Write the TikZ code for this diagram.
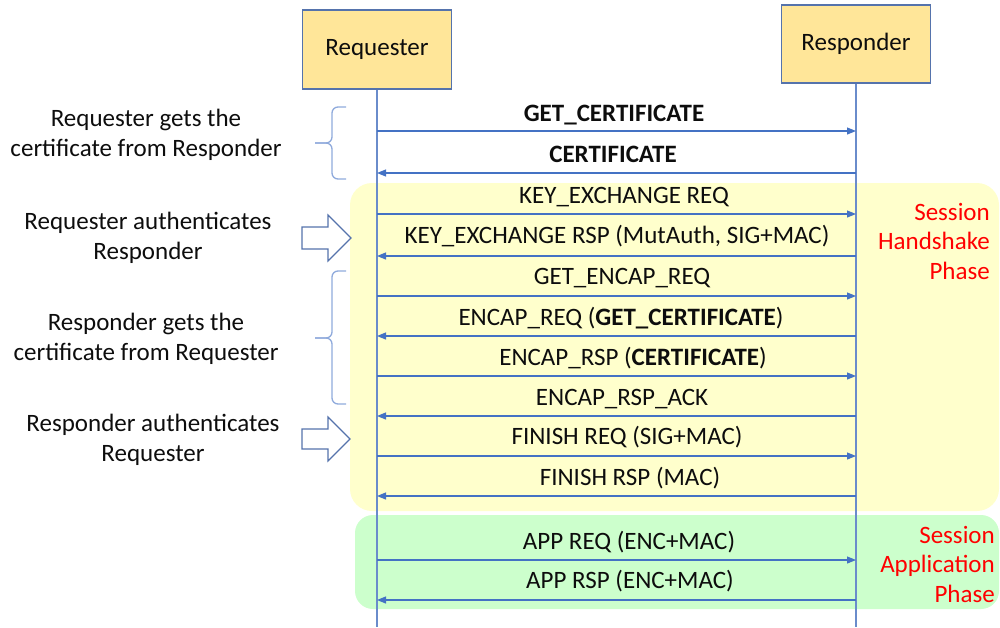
\documentclass[tikz,border=0pt]{standalone}
\usepackage{fontspec}
\setmainfont{Carlito}
\usetikzlibrary{arrows.meta}
\definecolor{boxfill}{HTML}{FFE699}
\definecolor{boxdraw}{HTML}{5573AC}
\definecolor{lifec}{HTML}{6A8CCB}
\definecolor{msgc}{HTML}{4472C4}
\definecolor{yellowbg}{HTML}{FFFFCC}
\definecolor{greenbg}{HTML}{CCFFCC}
\definecolor{bracec}{HTML}{8FAADC}
\definecolor{phasec}{HTML}{FF0000}
\definecolor{txt}{HTML}{0D0D0D}
\begin{document}
\begin{tikzpicture}[x=1pt,y=-1pt,
  font=\fontsize{25}{29.5}\selectfont, text=txt,
  actor/.style={draw=boxdraw, line width=1.1pt, fill=boxfill, minimum width=149pt, inner sep=0pt},
  life/.style={draw=lifec, line width=1.1pt},
  msg/.style={draw=msgc, line width=1.1pt, -{Triangle[length=9pt,width=7pt]}},
  lbl/.style={anchor=base, inner sep=0pt},
  note/.style={anchor=base, align=center, inner sep=0pt},
  phase/.style={anchor=base east, align=right, inner sep=0pt, text=phasec},
  bracepath/.style={draw=bracec, line width=1.3pt, rounded corners=6pt},
  blockarrow/.style={draw=boxdraw, fill=white, line width=1.1pt, line join=miter}
]
\useasboundingbox (0,0) rectangle (1000,627);

% phase backgrounds
\fill[yellowbg, rounded corners=22pt] (350,183) rectangle (999,511);
\fill[greenbg, rounded corners=18pt] (355,515) rectangle (999,609);

% actors
\node[actor, minimum height=79pt] (req) at (377,49.5) {Requester};
\node[actor, minimum height=78pt] (rsp) at (856,44) {Responder};
\coordinate (reqend) at (377,627);
\coordinate (rspend) at (856,627);
\draw[life] (req.south) -- (reqend);
\draw[life] (rsp.south) -- (rspend);

% message end points
\foreach \i/\y in {1/131,2/173,3/214,4/256,5/296,6/336,7/376,8/416,9/456,10/496,11/560,12/600}{
  \coordinate (a\i) at (377,\y);
  \coordinate (b\i) at (856,\y);
}

% messages
\draw[msg] (a1) -- (b1);
\draw[msg] (b2) -- (a2);
\draw[msg] (a3) -- (b3);
\draw[msg] (b4) -- (a4);
\draw[msg] (a5) -- (b5);
\draw[msg] (b6) -- (a6);
\draw[msg] (a7) -- (b7);
\draw[msg] (b8) -- (a8);
\draw[msg] (a9) -- (b9);
\draw[msg] (b10) -- (a10);
\draw[msg] (a11) -- (b11);
\draw[msg] (b12) -- (a12);

% message labels
\node[lbl] (m1) at (614,121) {\textbf{GET\_CERTIFICATE}};
\node[lbl] (m2) at (613,162) {\textbf{CERTIFICATE}};
\node[lbl] (m3) at (624,203) {KEY\_EXCHANGE REQ};
\node[lbl] (m4) at (617,243) {KEY\_EXCHANGE RSP (MutAuth, SIG+MAC)};
\node[lbl] (m5) at (622,284) {GET\_ENCAP\_REQ};
\node[lbl] (m6) at (621,325) {ENCAP\_REQ (\textbf{GET\_CERTIFICATE})};
\node[lbl] (m7) at (633,365) {ENCAP\_RSP (\textbf{CERTIFICATE})};
\node[lbl] (m8) at (622,405) {ENCAP\_RSP\_ACK};
\node[lbl] (m9) at (627,444) {FINISH REQ (SIG+MAC)};
\node[lbl] (m10) at (630,485) {FINISH RSP (MAC)};
\node[lbl] (m11) at (629,549) {APP REQ (ENC+MAC)};
\node[lbl] (m12) at (630,588) {APP RSP (ENC+MAC)};

% phase labels (anchor = baseline of last line)
\node[phase] (ph1) at (990,279) {Session\\Handshake\\Phase};
\node[phase] (ph2) at (995,602) {Session\\Application\\Phase};

% left notes (anchor = baseline of last line)
\node[note] (n1) at (146,156) {Requester gets the\\certificate from Responder};
\node[note] (n2) at (148,259) {Requester authenticates\\Responder};
\node[note] (n3) at (146,360) {Responder gets the\\certificate from Requester};
\node[note] (n4) at (153,461) {Responder authenticates\\Requester};

% braces
\draw[bracepath] (346,107) -- (332,107) -- (332,143) -- (315,143);
\draw[bracepath] (315,143) -- (332,143) -- (332,179) -- (346,179);
\draw[bracepath] (346,271) -- (332,271) -- (332,338) -- (315,338);
\draw[bracepath] (315,338) -- (332,338) -- (332,404) -- (346,404);

% block arrows
\draw[blockarrow] (302,227) -- (328,227) -- (328,215) -- (351,238) -- (328,261) -- (328,249) -- (302,249) -- cycle;
\draw[blockarrow] (302,429) -- (328,429) -- (328,417) -- (350,439) -- (328,461) -- (328,449) -- (302,449) -- cycle;
\end{tikzpicture}
\end{document}
